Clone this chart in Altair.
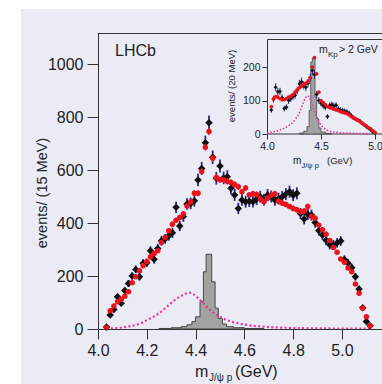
import altair as alt
import pandas as pd

FONT = "Liberation Sans"
BG = "#ebebf6"
INK = "#222222"
FRAME = "#333333"

# ---------------- main panel (15 MeV bins) ----------------
mass = [4.035, 4.050, 4.065, 4.080, 4.095, 4.110, 4.125, 4.140, 4.155, 4.170,
        4.185, 4.200, 4.215, 4.230, 4.245, 4.260, 4.275, 4.290, 4.305, 4.320,
        4.335, 4.350, 4.365, 4.380, 4.395, 4.410, 4.425, 4.440, 4.455, 4.470,
        4.485, 4.500, 4.515, 4.530, 4.545, 4.560, 4.575, 4.590, 4.605, 4.620,
        4.635, 4.650, 4.665, 4.680, 4.695, 4.710, 4.725, 4.740, 4.755, 4.770,
        4.785, 4.800, 4.815, 4.830, 4.845, 4.860, 4.875, 4.890, 4.905, 4.920,
        4.935, 4.950, 4.965, 4.980, 4.995, 5.010, 5.025, 5.040, 5.055, 5.070,
        5.085, 5.100, 5.115]
data_counts = [8, 53, 74, 122, 97, 145, 172, 200, 225, 197,
               248, 250, 295, 263, 304, 333, 340, 352, 363, 459,
               389, 425, 472, 474, 484, 562, 606, 703, 778, 648,
               569, 615, 570, 575, 531, 506, 455, 487, 480, 482,
               480, 490, 499, 487, 506, 500, 487, 492, 499, 509,
               518, 505, 512, 436, 415, 433, 430, 402, 372, 355,
               335, 318, 318, 325, 332, 262, 248, 231, 197, 151,
               80, 28, 12]
fit_counts = [5, 69, 87, 103, 112, 124, 141, 175, 197, 220,
              239, 255, 273, 285, 295, 326, 345, 371, 395, 410,
              421, 434, 464, 480, 512, 512, 594, 686, 745, 644,
              572, 563, 563, 557, 553, 545, 537, 518, 532, 506,
              510, 508, 492, 480, 493, 506, 510, 482, 475, 470,
              462, 455, 450, 442, 445, 462, 425, 418, 392, 375,
              358, 334, 308, 290, 264, 252, 230, 216, 170, 135,
              78, 46, 12]

# Pc(4380) dotted curve
pc4380_m = [4.035, 4.10, 4.17, 4.21, 4.24, 4.27, 4.295, 4.315, 4.336, 4.355,
            4.375, 4.39, 4.404, 4.42, 4.432, 4.45, 4.473, 4.50, 4.527, 4.55,
            4.582, 4.62, 4.69, 4.80, 4.95, 5.12]
pc4380_v = [1, 6, 20, 38, 53, 74, 94, 110, 122, 132,
            137, 132, 122, 108, 97, 80, 62, 46, 34, 27,
            20, 14, 8, 4, 2, 1]

# Pc(4450) histogram (left bin edges, heights)
pc4450_edges = [4.25, 4.30, 4.34, 4.365, 4.385, 4.40, 4.418, 4.432, 4.443, 4.466,
                4.48, 4.493, 4.51, 4.527, 4.555, 4.60, 4.68]
pc4450_h = [2, 5, 9, 16, 28, 46, 103, 216, 282, 178,
            79, 40, 19, 9, 5, 2, 0]

# ---------------- inset (20 MeV bins, m_Kp > 2 GeV) ----------------
in_mass = [4.04, 4.06, 4.08, 4.10, 4.12, 4.14, 4.16, 4.18, 4.20, 4.22,
           4.24, 4.26, 4.28, 4.30, 4.32, 4.34, 4.36, 4.38, 4.40, 4.42,
           4.44, 4.46, 4.48, 4.50, 4.52, 4.54, 4.56, 4.58, 4.60, 4.62,
           4.64, 4.66, 4.68, 4.70, 4.72, 4.74, 4.76, 4.78, 4.80, 4.82,
           4.84, 4.86, 4.88, 4.90, 4.92, 4.94, 4.96, 4.98, 5.00]
in_data = [72, 104, 140, 126, 127, 108, 76, 80, 100, 106,
           112, 116, 130, 150, 156, 145, 140, 152, 168, 190,
           178, 118, 100, 92, 85, 80, 52, 85, 88, 84,
           86, 75, 72, 70, 68, 66, 62, 55, 49, 45,
           42, 39, 32, 28, 22, 17, 12, 6, 3]
in_fit = [82, 105, 112, 110, 106, 103, 103, 106, 110, 113,
          118, 125, 132, 138, 143, 148, 152, 158, 168, 200,
          228, 180, 125, 100, 94, 88, 82, 79, 77, 74,
          72, 70, 67, 65, 63, 61, 57, 52, 48, 45,
          41, 37, 33, 28, 24, 19, 15, 10, 5]
in_curve_m = [4.00, 4.05, 4.10, 4.15, 4.20, 4.24, 4.27, 4.30, 4.32, 4.34,
              4.36, 4.375, 4.39, 4.41, 4.43, 4.45, 4.47, 4.49, 4.52, 4.56,
              4.62, 4.70, 4.80, 4.95]
in_curve_v = [3, 6, 10, 16, 25, 35, 47, 63, 80, 97,
              110, 114, 110, 96, 78, 60, 44, 32, 20, 11,
              6, 3, 2, 1]
in_hist_edges = [4.30, 4.34, 4.37, 4.39, 4.405, 4.42, 4.445, 4.46, 4.48, 4.50, 4.54, 4.60]
in_hist_h = [3, 8, 22, 70, 215, 228, 110, 45, 18, 6, 2, 0]

main_ticks_x = [4.0, 4.2, 4.4, 4.6, 4.8, 5.0]
main_ticks_y = [0, 200, 400, 600, 800, 1000]
in_ticks_x = [4.0, 4.5, 5.0]
in_ticks_y = [0, 100, 200]

# ---------------- helpers ----------------
def axis(**kw):
    base = dict(title=None, grid=False, zindex=1, labelFont=FONT, labelColor=INK,
                tickColor=FRAME, domainColor=FRAME, labelFlush=False, labelOverlap=False)
    base.update(kw)
    return alt.Axis(**base)

ax_mx = axis(values=main_ticks_x, format=".1f", tickSize=10, labelPadding=3, labelFontSize=16)
ax_my = axis(values=main_ticks_y, format="d", tickSize=11, labelPadding=4, labelFontSize=16)
ax_ix = axis(values=in_ticks_x, format=".1f", orient="bottom", offset=-195, tickSize=5,
             labelPadding=2, labelFontSize=10.5, domain=False)
ax_iy = axis(values=in_ticks_y, format="d", orient="left", offset=-169, tickSize=5,
             labelPadding=2, labelFontSize=10.5, domain=False)

sx_m = alt.Scale(domain=[4.0, 5.164], nice=False, zero=False)
sy_m = alt.Scale(domain=[0, 1117], nice=False)
sx_i = alt.Scale(domain=[4.0, 5.065], range=[169, 284], nice=False, zero=False)
sy_i = alt.Scale(domain=[0, 284], range=[101, 6], nice=False)

def mx(f="m"):
    return alt.X(f"{f}:Q", scale=sx_m, axis=ax_mx)
def my(f="v"):
    return alt.Y(f"{f}:Q", scale=sy_m, axis=ax_my)
def ix(f="m"):
    return alt.X(f"{f}:Q", scale=sx_i, axis=ax_ix)
def iy(f="v"):
    return alt.Y(f"{f}:Q", scale=sy_i, axis=ax_iy)

def one(s):
    return pd.DataFrame({"t": [s]})

def txt(s, x, y, size, align="left", baseline="alphabetic", angle=None):
    kw = dict(align=align, baseline=baseline, fontSize=size, font=FONT, color=INK)
    if angle is not None:
        kw["angle"] = angle
    return alt.Chart(one(s)).mark_text(**kw).encode(
        text="t:N", x=alt.value(x), y=alt.value(y))

# ---------------- data frames ----------------
df_data = pd.DataFrame({"m": mass, "v": data_counts})
df_fit = pd.DataFrame({"m": mass, "v": fit_counts})
df_curve = pd.DataFrame({"m": pc4380_m, "v": pc4380_v})
df_hist = pd.DataFrame({"m": pc4450_edges, "v": pc4450_h})
di_data = pd.DataFrame({"m": in_mass, "v": in_data})
di_fit = pd.DataFrame({"m": in_mass, "v": in_fit})
di_curve = pd.DataFrame({"m": in_curve_m, "v": in_curve_v})
di_hist = pd.DataFrame({"m": in_hist_edges, "v": in_hist_h})

err = dict(lo="datum.v - sqrt(datum.v)", hi="datum.v + sqrt(datum.v)")
err_small = dict(lo="datum.v - 0.5*sqrt(datum.v)", hi="datum.v + 0.5*sqrt(datum.v)")

# ---------------- main layers ----------------
bg = alt.Chart(one("bg")).mark_rect(color=BG).encode(
    x=alt.value(-77), x2=alt.value(290), y=alt.value(-24), y2=alt.value(360))
top_rule = alt.Chart(one("top")).mark_rule(color=FRAME, strokeWidth=1).encode(
    x=alt.value(0), x2=alt.value(290), y=alt.value(0.5))

hist = alt.Chart(df_hist).mark_area(
    interpolate="step-after", fill="#a2a2a2", stroke="#3a3a3a", strokeWidth=0.9
).encode(x=mx(), y=my())
curve = alt.Chart(df_curve).mark_line(
    color="#e8329c", strokeWidth=2.2, strokeDash=[2, 2.4], interpolate="monotone"
).encode(x=mx(), y=my())
data_err = alt.Chart(df_data).transform_calculate(**err).mark_rule(
    color="#2a2a86", strokeWidth=1.8).encode(x=mx(), y=my("lo"), y2="hi:Q")
data_pts = alt.Chart(df_data).mark_point(
    shape="diamond", filled=True, size=56, color="#111111", opacity=1).encode(x=mx(), y=my())
fit_err = alt.Chart(df_fit).transform_calculate(**err_small).mark_rule(
    color="#e8141c", strokeWidth=1.3).encode(x=mx(), y=my("lo"), y2="hi:Q")
fit_pts = alt.Chart(df_fit).mark_circle(size=30, color="#e8141c", opacity=1).encode(x=mx(), y=my())

main = alt.layer(
    bg, top_rule, hist, curve, data_err, data_pts, fit_err, fit_pts,
    txt("LHCb", 17, 23, 16),
    txt("events/ (15 MeV)", -55, 160, 14.5, align="center", baseline="middle", angle=270),
    txt("m", 97, 344, 16),
    txt("J/\u03c8 p", 111, 348, 10),
    txt("(GeV)", 137, 344, 16),
)

# ---------------- inset layers ----------------
frame = alt.Chart(one("frame")).mark_rect(fill=BG, stroke=FRAME, strokeWidth=1).encode(
    x=alt.value(169.5), x2=alt.value(300), y=alt.value(6.5), y2=alt.value(101))
i_hist = alt.Chart(di_hist).mark_area(
    interpolate="step-after", fill="#a2a2a2", stroke="#3a3a3a", strokeWidth=0.7
).encode(x=ix(), y=iy())
i_curve = alt.Chart(di_curve).mark_line(
    color="#e8329c", strokeWidth=1.6, strokeDash=[1.5, 1.8], interpolate="monotone"
).encode(x=ix(), y=iy())
i_err = alt.Chart(di_data).transform_calculate(**err).mark_rule(
    color="#2a2a86", strokeWidth=1).encode(x=ix(), y=iy("lo"), y2="hi:Q")
i_pts = alt.Chart(di_data).mark_point(
    shape="diamond", filled=True, size=16, color="#111111", opacity=1).encode(x=ix(), y=iy())
i_fit = alt.Chart(di_fit).mark_circle(size=14, color="#e8141c", opacity=1).encode(x=ix(), y=iy())

inset = alt.layer(
    frame, i_hist, i_curve, i_err, i_pts, i_fit,
    txt("m", 221, 20, 10.5),
    txt("Kp", 230, 23.5, 8),
    txt("> 2 GeV", 241, 20, 10.5),
    txt("events/ (20 MeV)", 134, 53, 9.5, align="center", baseline="middle", angle=270),
    txt("m", 195, 131, 10),
    txt("J/\u03c8 p", 203.5, 134.5, 7.5),
    txt("(GeV)", 229, 131, 9.5),
)

chart = alt.layer(main, inset).resolve_scale(
    x="independent", y="independent"
).properties(
    width=284, height=296,
    autosize=alt.AutoSizeParams(type="none"),
    padding={"left": 98, "top": 33, "right": 0, "bottom": 55},
    background="white",
).configure_view(stroke=None)

chart.save("out.html", embed_options={"renderer": "svg", "actions": False})
